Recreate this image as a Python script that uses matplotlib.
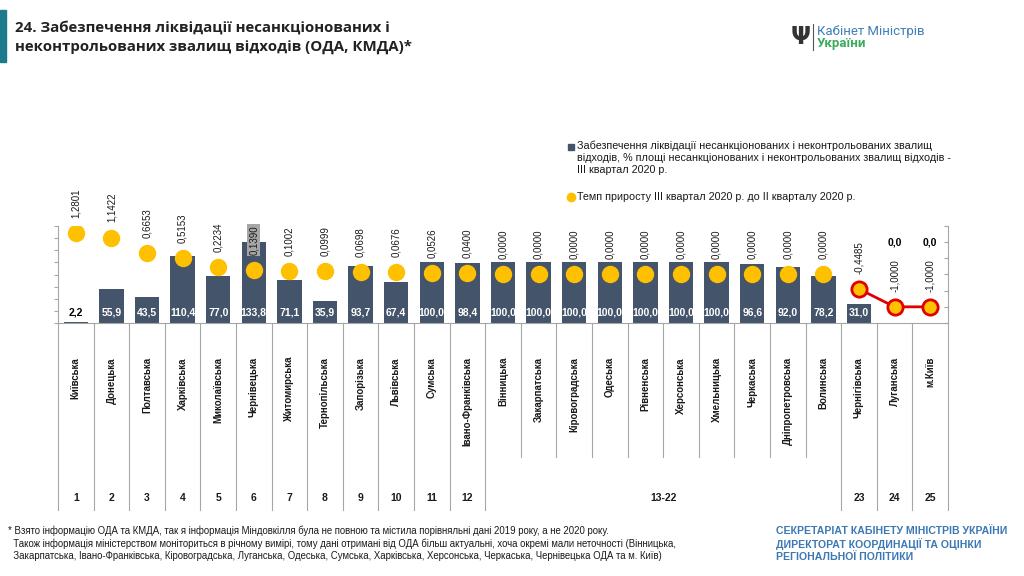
import matplotlib
matplotlib.use("Agg")
import matplotlib.pyplot as plt
import matplotlib.transforms as mtransforms
from matplotlib.lines import Line2D
from matplotlib.patches import Rectangle
import numpy as np

# ---- data ----
regions = ["Київська", "Донецька", "Полтавська", "Харківська", "Миколаївська",
           "Чернівецька", "Житомирська", "Тернопільська", "Запорізька", "Львівська",
           "Сумська", "Івано-Франківська", "Вінницька", "Закарпатська",
           "Кіровоградська", "Одеська", "Рівненська", "Херсонська", "Хмельницька",
           "Черкаська", "Дніпропетровська", "Волинська", "Чернігівська",
           "Луганська", "м.Київ"]
area_pct = [2.2, 55.9, 43.5, 110.4, 77.0, 133.8, 71.1, 35.9, 93.7, 67.4,
            100.0, 98.4, 100.0, 100.0, 100.0, 100.0, 100.0, 100.0, 100.0,
            96.6, 92.0, 78.2, 31.0, 0.0, 0.0]
growth = [1.2801, 1.1422, 0.6653, 0.5153, 0.2234, 0.1390, 0.1002, 0.0999,
          0.0698, 0.0676, 0.0526, 0.0400, 0.0, 0.0, 0.0, 0.0, 0.0, 0.0, 0.0,
          0.0, 0.0, 0.0, -0.4485, -1.0, -1.0]
rank_labels = [str(i) for i in range(1, 13)] + ["13-22", "23", "24", "25"]
rank_spans = [(i, i) for i in range(12)] + [(12, 21), (22, 22), (23, 23), (24, 24)]
n_neg = 3  # last regions drawn with red outline

legend_bar = ("Забезпечення ліквідації несанкціонованих і неконтрольованих звалищ\n"
              "відходів, % площі несанкціонованих і неконтрольованих звалищ відходів -\n"
              "III квартал 2020 р.")
legend_dot = "Темп приросту III квартал 2020 р. до II кварталу 2020 р."
title = ("24. Забезпечення ліквідації несанкціонованих і\n"
         "неконтрольованих звалищ відходів (ОДА, КМДА)*")
footnote = ("* Взято інформацію ОДА та КМДА, так я інформація Міндовкілля була не повною та містила порівняльні дані 2019 року, а не 2020 року.\n"
            "  Також інформація міністерством моніториться в річному вимірі, тому дані отримані від ОДА більш актуальні, хоча окремі мали неточності (Вінницька,\n"
            "  Закарпатська, Івано-Франківська, Кіровоградська, Луганська, Одеська, Сумська, Харківська, Херсонська, Черкаська, Чернівецька ОДА та м. Київ)")
secretariat = ("СЕКРЕТАРІАТ КАБІНЕТУ МІНІСТРІВ УКРАЇНИ\n"
               "ДИРЕКТОРАТ КООРДИНАЦІЇ ТА ОЦІНКИ\n"
               "РЕГІОНАЛЬНОЇ ПОЛІТИКИ")

BAR = "#44546A"
YEL = "#FFC000"
RED = "#E00000"
GRID = "#A6A6A6"
TXT = "#1A1A1A"

plt.rcParams["font.family"] = ["Liberation Sans", "DejaVu Sans"]

W, H = 1024, 576
fig = plt.figure(figsize=(W / 100, H / 100), dpi=100)


def fx(px):
    return px / W


def fy(px):
    return 1 - px / H


ax = fig.add_axes([fx(58), fy(323), fx(948) - fx(58), (323 - 226) / H])
x = np.arange(len(regions))
ax.bar(x, area_pct, width=0.68, color=BAR, zorder=2)
ax.set_xlim(-0.5, len(regions) - 0.5)
ax.set_ylim(0, 160)
ax.set_yticks(np.arange(0, 161, 20))
ax.set_yticklabels([])
ax.set_xticks([])
ax.tick_params(axis="y", direction="out", length=3, color=GRID)
for s in ("top", "right"):
    ax.spines[s].set_visible(False)
for s in ("left", "bottom"):
    ax.spines[s].set_color(GRID)

for i, v in enumerate(area_pct):
    lab = f"{v:.1f}".replace(".", ",")
    if v == 0:
        ax.annotate(lab, (i, v), xytext=(0, 58), textcoords="offset points",
                    ha="center", va="center", fontsize=7.5, fontweight="bold",
                    color="black")
    else:
        ax.annotate(lab, (i, 0), xytext=(0, 7.5), textcoords="offset points",
                    ha="center", va="center", fontsize=7.5, fontweight="bold",
                    color="black" if v < 10 else "white", zorder=4)

ax2 = ax.twinx()
ax2.set_ylim(-1.5, 1.5)
ax2.set_yticks(np.arange(-1.5, 1.51, 0.5))
ax2.set_yticklabels([])
ax2.tick_params(axis="y", direction="in", length=3, color=GRID)
for s in ("top", "left", "bottom"):
    ax2.spines[s].set_visible(False)
ax2.spines["right"].set_color(GRID)

k = len(growth) - n_neg
ax2.plot(x[:k], growth[:k], "o", ms=11.5, color=YEL, zorder=3)
ax2.plot(x[k:], growth[k:], "-o", ms=11, color=RED, lw=2, mfc=YEL, mec=RED,
         mew=2, zorder=3, clip_on=False)
for i, v in enumerate(growth):
    box = None
    if i == 5:
        box = dict(boxstyle="square,pad=0.15", fc="#A6A6A6", ec="none")
    ax2.annotate(f"{v:.4f}".replace(".", ","), (i, v), xytext=(0, 11),
                 textcoords="offset points", rotation=90, ha="center",
                 va="bottom", fontsize=7, color=TXT, bbox=box)

# category grid below the axis
trans = mtransforms.blended_transform_factory(ax.transData, fig.transFigure)
for b in range(len(regions) + 1):
    short = 13 <= b <= 21
    y_end = fy(457) if short else fy(510)
    ax.plot([b - 0.5, b - 0.5], [fy(323), y_end], color=GRID, lw=0.8,
            transform=trans, clip_on=False)
for i, name in enumerate(regions):
    ax.text(i, fy(357), name, transform=trans, rotation=90, ha="center",
            va="top", fontsize=7, fontweight="bold", color=TXT)
for lab, (a, b) in zip(rank_labels, rank_spans):
    ax.text((a + b) / 2, fy(498), lab, transform=trans, ha="center",
            va="center", fontsize=7.5, fontweight="bold", color=TXT)

# legend
fig.add_artist(Line2D([fx(571)], [fy(147)], marker="s", ms=4, color=BAR,
                      transform=fig.transFigure))
fig.text(fx(577), fy(141), legend_bar, ha="left", va="top", fontsize=7.75,
         color=TXT, linespacing=1.25)
fig.add_artist(Line2D([fx(571)], [fy(197)], marker="o", ms=6, color=YEL,
                      transform=fig.transFigure))
fig.text(fx(577), fy(197), legend_dot, ha="left", va="center", fontsize=7.75,
         color=TXT)

# header
fig.add_artist(Rectangle((0, fy(62)), fx(6), (62 - 10) / H, color="#1B7A8C",
                         transform=fig.transFigure))
fig.text(fx(15), fy(37), title, ha="left", va="center", fontsize=10.8,
         fontweight="bold", color="#222222",
         family=["Open Sans", "DejaVu Sans"], linespacing=1.45)

# logo
fig.text(fx(801), fy(37), "Ψ", ha="center", va="center", fontsize=17,
         fontweight="bold", color="#333333", family=["DejaVu Sans"])
fig.add_artist(Line2D([fx(813), fx(813)], [fy(24), fy(50)], color="#555555",
                      lw=0.8, transform=fig.transFigure))
fig.text(fx(817), fy(31), "Кабінет Міністрів", ha="left", va="center",
         fontsize=9.5, color="#3F7FB8", family=["Roboto", "DejaVu Sans"])
fig.text(fx(817), fy(43), "України", ha="left", va="center", fontsize=9.5,
         fontweight="bold", color="#3DAA5C", family=["Roboto", "DejaVu Sans"])

# footer
fig.text(fx(8), fy(525), footnote, ha="left", va="top", fontsize=6.9,
         color=TXT, linespacing=1.3,
         family=["Liberation Sans Narrow", "Liberation Sans"])
fig.text(fx(776), fy(526), secretariat, ha="left", va="top", fontsize=7.6,
         fontweight="bold", color="#3C78B4", linespacing=1.25)

fig.savefig("out.png", dpi=100)
